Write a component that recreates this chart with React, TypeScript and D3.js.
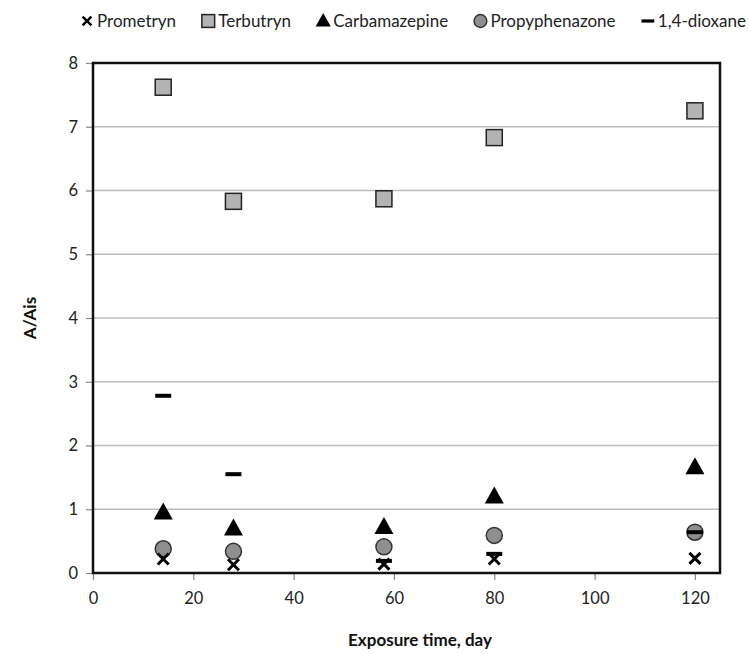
import React, {useEffect, useRef} from "react";
import * as d3 from "d3";

const days = [14, 28, 58, 80, 120];
const prometryn = [0.22, 0.13, 0.14, 0.22, 0.23];
const terbutryn = [7.62, 5.83, 5.87, 6.83, 7.25];
const carbamazepine = [0.95, 0.7, 0.72, 1.2, 1.66];
const propyphenazone = [0.38, 0.34, 0.41, 0.59, 0.64];
const dioxane = [2.78, 1.55, 0.19, 0.3, 0.64];

const xTicks = [0, 20, 40, 60, 80, 100, 120];
const yTicks = [0, 1, 2, 3, 4, 5, 6, 7, 8];

const legendItems = [
  {key: "x", label: "Prometryn"},
  {key: "square", label: "Terbutryn"},
  {key: "triangle", label: "Carbamazepine"},
  {key: "circle", label: "Propyphenazone"},
  {key: "dash", label: "1,4-dioxane"},
];

const font = "Lato, 'Open Sans', sans-serif";

function drawMarker(g: any, kind: string, cx: number, cy: number, s = 1) {
  if (kind === "x") {
    const h = 5.5 * s;
    g.append("path")
      .attr("d", `M${cx - h},${cy - h}L${cx + h},${cy + h}M${cx - h},${cy + h}L${cx + h},${cy - h}`)
      .attr("stroke", "#000")
      .attr("stroke-width", 3 * s);
  } else if (kind === "square") {
    const h = 8 * s;
    g.append("rect")
      .attr("x", cx - h)
      .attr("y", cy - h)
      .attr("width", 2 * h)
      .attr("height", 2 * h)
      .attr("fill", "#b3b3b3")
      .attr("stroke", "#222")
      .attr("stroke-width", 1.5);
  } else if (kind === "triangle") {
    const w = 9.5 * s, t = 10 * s, b = 7 * s;
    g.append("path")
      .attr("d", `M${cx},${cy - t}L${cx + w},${cy + b}L${cx - w},${cy + b}Z`)
      .attr("fill", "#000");
  } else if (kind === "circle") {
    g.append("circle")
      .attr("cx", cx)
      .attr("cy", cy)
      .attr("r", 8 * s)
      .attr("fill", "#8f8f8f")
      .attr("stroke", "#333")
      .attr("stroke-width", 1.5);
  } else if (kind === "dash") {
    g.append("rect")
      .attr("x", cx - 8 * s)
      .attr("y", cy - 2 * s)
      .attr("width", 16 * s)
      .attr("height", 4 * s)
      .attr("fill", "#000");
  }
}

function createChart(el: SVGSVGElement) {
  const svg = d3.select(el);
  svg.selectAll("*").remove();
  const margin = {top: 63, left: 93, right: 30, bottom: 81};
  const W = 750, H = 654;
  const width = W - margin.left - margin.right;
  const height = H - margin.top - margin.bottom;

  const x = d3.scaleLinear().domain([0, 125]).range([margin.left, margin.left + width]);
  const y = d3.scaleLinear().domain([0, 8]).range([margin.top + height, margin.top]);

  // gridlines
  svg.append("g")
    .selectAll("line")
    .data(yTicks.filter((d) => d > 0 && d < 8))
    .enter()
    .append("line")
    .attr("x1", margin.left)
    .attr("x2", margin.left + width)
    .attr("y1", (d) => y(d))
    .attr("y2", (d) => y(d))
    .attr("stroke", "#b9c0c0")
    .attr("stroke-width", 1.5);

  // axes
  const ya = svg.append("g")
    .attr("transform", `translate(${margin.left},0)`)
    .call(d3.axisLeft(y).tickValues(yTicks).tickSize(7).tickPadding(8).tickFormat(d3.format("d")));
  const xa = svg.append("g")
    .attr("transform", `translate(0,${margin.top + height})`)
    .call(d3.axisBottom(x).tickValues(xTicks).tickSize(7).tickPadding(12).tickFormat(d3.format("d")));
  [ya, xa].forEach((a) => {
    a.select(".domain").remove();
    a.selectAll(".tick line").attr("stroke", "#888").attr("stroke-width", 1.2);
    a.selectAll(".tick text").attr("font-family", font).attr("font-size", 16.5).attr("fill", "#222");
  });

  // frame
  svg.append("rect")
    .attr("x", margin.left)
    .attr("y", margin.top)
    .attr("width", width)
    .attr("height", height)
    .attr("fill", "none")
    .attr("stroke", "#111")
    .attr("stroke-width", 2.5);

  const marks = svg.append("g");
  const series: [string, number[]][] = [
    ["square", terbutryn],
    ["triangle", carbamazepine],
    ["circle", propyphenazone],
    ["x", prometryn],
    ["dash", dioxane],
  ];
  series.forEach(([kind, vals]) => {
    vals.forEach((v, i) => drawMarker(marks, kind, x(days[i]), y(v)));
  });

  // legend: measure texts, then spread items between 80 and 746
  const lg = svg.append("g");
  const texts = legendItems.map((it) =>
    lg.append("text")
      .attr("y", 21)
      .attr("dy", "0.35em")
      .attr("font-family", font)
      .attr("font-size", 17)
      .attr("fill", "#222")
      .text(it.label)
  );
  const widths = texts.map((t) => (t.node() as SVGTextElement).getComputedTextLength());
  const markerW = 14, pad = 3;
  const used = d3.sum(widths) + legendItems.length * (markerW + pad);
  const gap = (746 - 80 - used) / (legendItems.length - 1);
  let cx = 80;
  legendItems.forEach((it, i) => {
    drawMarker(lg, it.key, cx + markerW / 2, 21, 0.8);
    texts[i].attr("x", cx + markerW + pad);
    cx += markerW + pad + widths[i] + gap;
  });

  // axis titles
  svg.append("text")
    .attr("x", 420)
    .attr("y", 640)
    .attr("dy", "0.35em")
    .attr("text-anchor", "middle")
    .attr("font-family", font)
    .attr("font-weight", "bold")
    .attr("font-size", 17)
    .attr("fill", "#111")
    .text("Exposure time, day");

  svg.append("text")
    .attr("transform", `translate(30,318) rotate(-90)`)
    .attr("dy", "0.35em")
    .attr("text-anchor", "middle")
    .attr("font-family", font)
    .attr("font-weight", "bold")
    .attr("font-size", 17)
    .attr("fill", "#111")
    .text("A/Ais");
}

export default function App() {
  const ref = useRef<SVGSVGElement>(null);
  useEffect(() => {
    if (ref.current) createChart(ref.current);
  }, []);
  return (
    <svg ref={ref} width={750} height={654} style={{position: "absolute", left: 0, top: 0, background: "#fff"}} />
  );
}
